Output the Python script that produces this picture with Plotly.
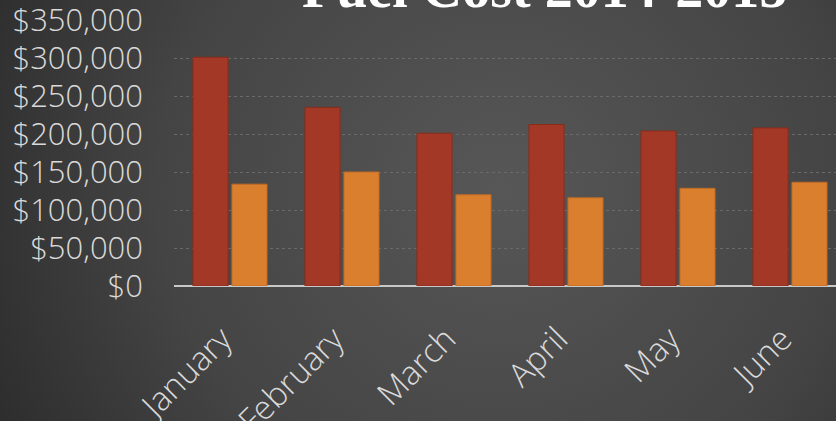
import plotly.graph_objects as go
import urllib.parse

months = ["January", "February", "March", "April", "May", "June"]
cost_2014 = [301000, 235000, 201000, 212500, 204000, 208000]
cost_2015 = [134000, 150000, 120000, 116000, 128500, 136500]
title_text = "Fuel Cost 2014-2015"
y_ticks = [0, 50000, 100000, 150000, 200000, 250000, 300000, 350000]
y_labels = ["$0", "$50,000", "$100,000", "$150,000", "$200,000", "$250,000", "$300,000", "$350,000"]

W, H = 836, 421
ML, MR, MT, MB = 174, 0, 20, 135
pw, ph = W - ML - MR, H - MT - MB
cat_px = 112.0
label_shift = -0.07  # small visual nudge of rotated month labels

xpos = list(range(len(months)))

fig = go.Figure()
fig.add_trace(go.Bar(x=xpos, y=cost_2014, name="2014",
                     marker=dict(color="#a43826", line=dict(color="#8a2c1a", width=1))))
fig.add_trace(go.Bar(x=xpos, y=cost_2015, name="2015",
                     marker=dict(color="#da7f2e", line=dict(color="#c06a24", width=1))))

svg = (
    "<svg xmlns='http://www.w3.org/2000/svg' width='836' height='421'>"
    "<defs><radialGradient id='g' cx='0.6' cy='0.45' r='0.75' "
    "gradientTransform='translate(0.6 0.45) scale(1 1.9) translate(-0.6 -0.45)'>"
    "<stop offset='0' stop-color='#575757'/>"
    "<stop offset='0.55' stop-color='#444444'/>"
    "<stop offset='1' stop-color='#262626'/>"
    "</radialGradient></defs>"
    "<rect width='836' height='421' fill='url(#g)'/></svg>"
)
src = "data:image/svg+xml;charset=utf-8," + urllib.parse.quote(svg)

fig.add_layout_image(dict(
    source=src, xref="paper", yref="paper",
    x=-ML / pw, y=1 + MT / ph, sizex=W / pw, sizey=H / ph,
    xanchor="left", yanchor="top", sizing="stretch", layer="below"))

title_y = 1 + (MT - (-12)) / ph
fig.add_annotation(text=title_text, xref="paper", yref="paper",
                   x=(544 - ML) / pw, y=title_y, xanchor="center", yanchor="middle",
                   showarrow=False,
                   font=dict(family="Liberation Serif, serif", size=56, color="#ffffff", weight="bold"))

label_font = "Open Sans, Lato, sans-serif"
fig.update_layout(
    width=W, height=H, autosize=False,
    margin=dict(l=ML, r=MR, t=MT, b=MB, pad=0),
    paper_bgcolor="#3a3a3a", plot_bgcolor="rgba(0,0,0,0)",
    barmode="group", bargap=0.304, bargroupgap=0.1,
    showlegend=False,
    font=dict(family=label_font, color="#d9d9d9"),
)
fig.update_xaxes(
    type="linear", range=[-0.5, -0.5 + pw / cat_px], automargin=False,
    tickvals=[i + label_shift for i in xpos], ticktext=months,
    tickangle=-45, tickfont=dict(family=label_font, size=33, color="#d9d9d9", weight=300),
    ticklabelstandoff=26, ticklabeloverflow="allow",
    showgrid=False, showline=False, ticks="", zeroline=False,
)
fig.update_yaxes(
    range=[0, 350000], tickvals=y_ticks, ticktext=y_labels, automargin=False,
    tickfont=dict(family=label_font, size=31, color="#d9d9d9", weight=300),
    ticklabelstandoff=30, ticklabeloverflow="allow",
    showgrid=True, gridcolor="#6a6a6a", gridwidth=1, griddash="dot",
    zeroline=True, zerolinecolor="#c8c8c8", zerolinewidth=2,
)

fig.write_html("out.html", config={"displayModeBar": False},
               post_script="document.body.style.margin='0';")
